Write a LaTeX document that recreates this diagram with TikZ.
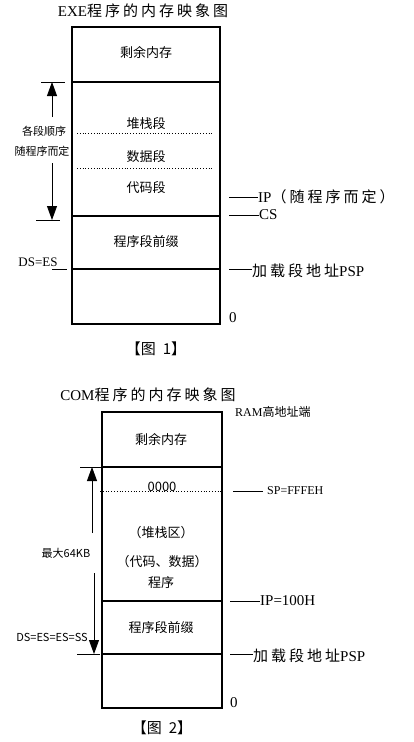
\documentclass[tikz,border=0pt]{standalone}
\usepackage{fontspec}
\setmainfont{Liberation Serif}
\newfontfamily\cjk{Noto Sans CJK SC}
\newfontfamily\cjkw[LetterSpace=20]{Noto Sans CJK SC}
\usetikzlibrary{arrows.meta}

\begin{document}
\begin{tikzpicture}[x=1pt, y=-1pt,
  mem/.style={line width=1.8pt},
  sep/.style={dotted, line width=0.8pt},
  lead/.style={line width=0.8pt},
  arr/.style={line width=0.8pt, -{Triangle[width=10pt,length=14pt]}},
  ttl/.style={font=\fontsize{15}{17}\selectfont, inner sep=0pt},
  lbl/.style={font=\cjk\fontsize{13}{15}\selectfont, inner sep=0pt},
  small/.style={font=\cjk\fontsize{11}{13}\selectfont, inner sep=0pt},
  reg/.style={font=\fontsize{15}{17}\selectfont, anchor=west, inner sep=0pt}]
\useasboundingbox (0,0) rectangle (413,742);

% Figure 1: EXE memory map
\node[ttl] (exetitle) at (143,11) {EXE{\cjkw 程序的内存映象图}};
\draw[mem] (72,27) rectangle (220,324);
\draw[mem] (72,82) -- (220,82);
\draw[mem] (72,216) -- (220,216);
\draw[mem] (72,269) -- (220,269);
\draw[sep] (77,133) -- (213,133);
\draw[sep] (77,168) -- (213,168);

\node[lbl] (exefree) at (146,53) {剩余内存};
\node[lbl] (exestack) at (146,124) {堆栈段};
\node[lbl] (exedata) at (146,157) {数据段};
\node[lbl] (execode) at (146,188) {代码段};
\node[lbl] (exepsp) at (146,242) {程序段前缀};

% order of segments
\coordinate (exetop) at (52,82);
\coordinate (exebot) at (52,220);
\draw[lead] (41,82) -- (65,82);
\draw[lead] (36,220) -- (60,220);
\node[small] (order1) at (44,131) {各段顺序};
\node[small] (order2) at (42,151) {随程序而定};
\draw[arr] (52,117) -- (exetop);
\draw[arr] (52,163) -- (exebot);

\node[font=\fontsize{13}{15}\selectfont, inner sep=0pt] (exeds) at (38,262) {DS=ES};
\draw[lead] (52,269) -- (67,269);

% right side registers
\node[reg] (exeip) at (258,197) {IP{\cjkw （随程序而定）}};
\node[reg] (execs) at (259,215) {CS};
\node[reg] (exeload) at (252,271) {{\cjkw 加载段地址}PSP};
\node[reg] (exezero) at (229,318) {0};
\draw[lead] (229,197) -- (exeip.west);
\draw[lead] (229,215) -- (execs.west);
\draw[lead] (229,269) -- (exeload.west |- 0,269);
\node[ttl] (cap1) at (156,349) {{\cjk 【图\hspace{7pt}1】}};

% Figure 2: COM memory map
\node[ttl] (comtitle) at (148,395) {COM{\cjkw 程序的内存映象图}};
\node[font=\fontsize{12}{14}\selectfont, anchor=west, inner sep=0pt] (ramtop) at (235,412) {RAM{\cjk 高地址端}};
\draw[mem] (102,412) rectangle (222,708);
\draw[mem] (102,467) -- (222,467);
\draw[mem] (102,601) -- (222,601);
\draw[mem] (102,654) -- (222,654);
\draw[sep] (100,491) -- (222,491);

\node[lbl] (comfree) at (161,440) {剩余内存};
\node[lbl, anchor=south] (comsp0) at (162,492) {0000};
\node[lbl] (comstack) at (161,533) {（堆栈区）};
\node[lbl] (comcode) at (162,562) {（代码、数据）};
\node[lbl] (comprog) at (161,583) {程序};
\node[lbl] (compsp) at (161,628) {程序段前缀};

% 64KB range
\coordinate (comtop) at (92,467);
\coordinate (combot) at (94,654);
\draw[lead] (80,467) -- (103,467);
\draw[lead] (77,654) -- (100,654);
\node[small] (max64) at (66,553) {最大64KB};
\node[small] (comds) at (52,637) {DS=ES=ES=SS};
\draw[arr] (92,533) -- (comtop);
\draw[arr] (94,573) -- (combot);

% right side registers
\node[font=\fontsize{12}{14}\selectfont, anchor=west, inner sep=0pt] (comsp) at (267,491) {SP=FFFEH};
\node[reg] (comip) at (260,601) {IP=100H};
\node[reg] (comload) at (253,656) {{\cjkw 加载段地址}PSP};
\node[reg] (comzero) at (230,703) {0};
\draw[lead] (233,491) -- (263,491);
\draw[lead] (230,601) -- (comip.west);
\draw[lead] (230,654) -- (comload.west |- 0,654);
\node[ttl] (cap2) at (162,728) {{\cjk 【图\hspace{7pt}2】}};

\end{tikzpicture}
\end{document}
